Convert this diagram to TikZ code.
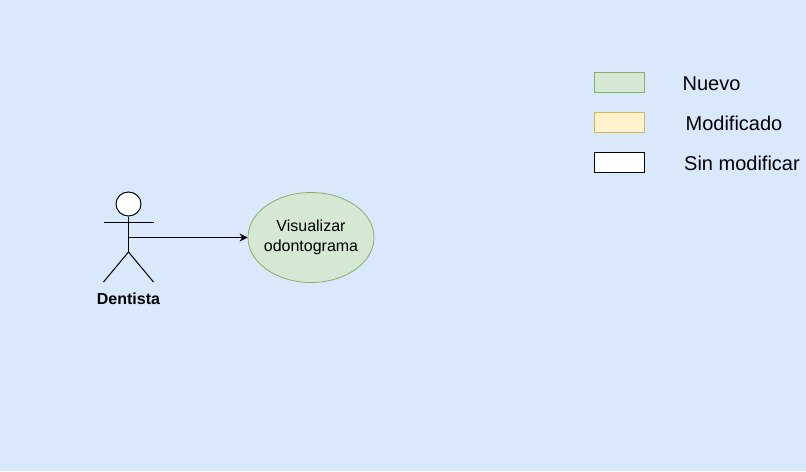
\documentclass[tikz,border=0pt]{standalone}
\usepackage{fontspec}
\setmainfont{Liberation Sans}
\usetikzlibrary{shapes.geometric, arrows.meta}
\definecolor{fondo}{HTML}{DAE8FC}
\definecolor{verde}{HTML}{D5E8D4}
\definecolor{verdeb}{HTML}{82B366}
\definecolor{amarillo}{HTML}{FFF2CC}
\definecolor{amarillob}{HTML}{D6B656}
\begin{document}
\begin{tikzpicture}[
        x=0.75pt, y=-0.75pt,
        every node/.style={font=\fontsize{12pt}{15pt}\selectfont},
        caja/.style={draw, minimum width=37.5pt, minimum height=15pt, inner sep=0pt, line width=0.6pt},
        leyenda/.style={font=\fontsize{15pt}{18pt}\selectfont, inner sep=0pt},
        caso/.style={ellipse, draw=verdeb, fill=verde, minimum width=94.5pt, minimum height=67.5pt, inner xsep=-2pt, inner ysep=0pt, align=center, line width=0.6pt},
        linea/.style={line width=0.75pt},
        >={Stealth[length=6pt,width=6pt]}
    ]
        \fill[fondo] (0,0) rectangle (806,471);
        \useasboundingbox (0,0) rectangle (806,471);

        %--------------------------------
        % Leyenda
        %--------------------------------
        \node[caja, draw=verdeb, fill=verde] (nuevo) at (619.5,82) {};
        \node[caja, draw=amarillob, fill=amarillo] (modificado) at (619.5,122) {};
        \node[caja, fill=white] (sinmod) at (619.5,162) {};

        \node[leyenda] (tnuevo) at (711.5,83.5) {Nuevo};
        \node[leyenda] (tmodificado) at (734,123) {Modificado};
        \node[leyenda] (tsinmod) at (742,163) {Sin modificar};

        %--------------------------------
        % Actor
        %--------------------------------
        \node[ellipse, draw, fill=white, linea, minimum width=18.75pt, minimum height=18pt, inner sep=0pt] (cabeza) at (128.5,204) {};
        \coordinate (cadera) at (128.5,252);
        \coordinate (pecho) at (128.5,237.5);
        \draw[linea] (cabeza) -- (cadera);
        \draw[linea] (103.5,222) -- (153.5,222);
        \draw[linea] (cadera) -- (103.5,282);
        \draw[linea] (cadera) -- (153.5,282);
        \node[font=\fontsize{12pt}{15pt}\selectfont\bfseries, inner sep=0pt] (dentista) at (128.5,298.5) {Dentista};

        %--------------------------------
        % Caso de uso
        %--------------------------------
        \node[caso] (visualizar) at (311,237.5) {Visualizar\\odontograma};
        \draw[->, linea] (pecho) -- (visualizar);

    \end{tikzpicture}
\end{document}
